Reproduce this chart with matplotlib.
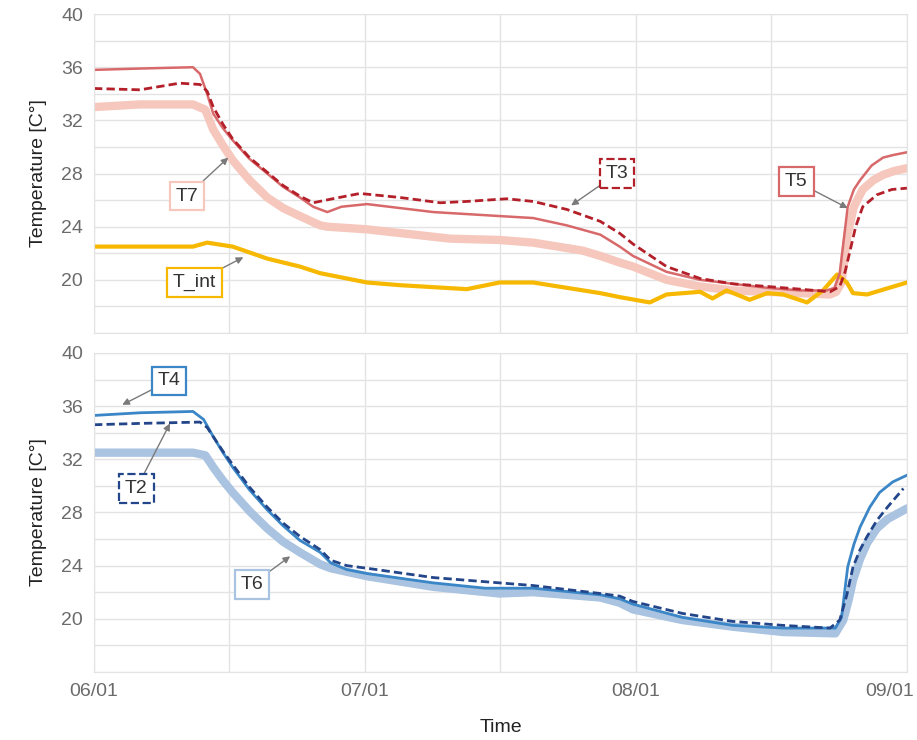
import numpy as np
import matplotlib.pyplot as plt
import matplotlib.transforms as mtransforms

plt.rcParams['font.family'] = ['Liberation Sans', 'DejaVu Sans']

# days since 06/01 for each series, temperatures in C
t5_day = [0, 5.2, 11.2, 12.0, 12.8, 13.5, 14.6, 15.7, 17.6, 19.6, 21.4, 23.3, 24.8, 25.6, 26.4,
          28.0, 30.9, 38.4, 45.9, 49.7, 53.5, 57.3, 59.5, 61.0, 64.8, 68.6, 72.3, 76.2, 79.9,
          82.9, 83.8, 84.4, 85.3, 86.0, 86.7, 88.0, 89.3, 90.5, 92]
t5_val = [35.8, 35.9, 36.0, 35.5, 34.0, 32.5, 31.4, 30.5, 29.1, 28.0, 27.0, 26.2, 25.5, 25.3, 25.1,
          25.5, 25.7, 25.1, 24.8, 24.65, 24.1, 23.4, 22.5, 21.8, 20.6, 20.0, 19.7, 19.4, 19.2,
          19.2, 19.4, 20.5, 25.5, 26.8, 27.5, 28.6, 29.2, 29.4, 29.6]

t3_day = [0, 5.2, 9.7, 12.0, 12.8, 13.5, 14.6, 15.7, 17.6, 19.6, 21.4, 23.3, 24.8, 27.0, 30.1,
          34.6, 39.2, 42.2, 46.7, 49.7, 53.5, 57.3, 59.5, 61.0, 64.8, 68.6, 72.3, 76.2, 79.9,
          83.3, 84.4, 85.0, 85.5, 86.2, 87.0, 88.6, 90.3, 92]
t3_val = [34.4, 34.3, 34.8, 34.7, 34.2, 33.0, 31.7, 30.6, 29.2, 28.1, 27.1, 26.3, 25.8, 26.1, 26.5,
          26.2, 25.8, 25.9, 26.1, 25.9, 25.3, 24.4, 23.5, 22.7, 21.0, 20.1, 19.7, 19.5, 19.3,
          19.1, 19.5, 20.6, 22.0, 24.0, 25.5, 26.4, 26.8, 26.9]

t7_day = [0, 5.2, 11.2, 12.6, 13.5, 14.6, 15.7, 17.6, 19.6, 21.4, 23.3, 25.6, 26.4, 30.9, 40.3,
          45.9, 49.7, 55.3, 57.3, 59.5, 61.0, 64.8, 68.6, 72.3, 76.2, 79.9, 83.3, 84.0, 84.6,
          85.3, 86.0, 87.0, 88.2, 89.3, 90.6, 92]
t7_val = [33.0, 33.2, 33.2, 32.8, 31.3, 30.1, 29.0, 27.5, 26.2, 25.4, 24.8, 24.1, 24.0, 23.8, 23.1,
          23.0, 22.8, 22.2, 21.8, 21.3, 21.0, 20.0, 19.5, 19.2, 19.1, 19.0, 18.9, 19.1, 19.8,
          23.5, 25.5, 26.8, 27.5, 27.9, 28.2, 28.4]

tint_day = [0, 11.2, 12.8, 15.7, 19.6, 23.3, 25.6, 30.9, 34.6, 42.2, 45.9, 49.7, 53.5, 57.3, 59.5,
            62.9, 64.8, 68.6, 70.0, 71.6, 74.2, 76.2, 78.0, 80.7, 82.5, 84.1, 85.2, 85.9, 87.5, 92]
tint_val = [22.5, 22.5, 22.8, 22.5, 21.6, 21.0, 20.5, 19.8, 19.6, 19.3, 19.8, 19.8, 19.4, 19.0, 18.7,
            18.3, 18.9, 19.1, 18.6, 19.2, 18.5, 19.0, 18.9, 18.3, 19.2, 20.4, 19.8, 19.0, 18.9, 19.8]

t4_day = [0, 5.2, 11.2, 12.4, 13.5, 14.6, 15.7, 17.6, 19.6, 21.4, 23.3, 25.6, 26.8, 28.6, 30.9,
          38.4, 44.3, 49.7, 57.3, 59.5, 61.0, 66.6, 72.3, 78.0, 83.9, 84.6, 85.3, 86.0, 86.7,
          87.8, 88.9, 90.4, 92]
t4_val = [35.3, 35.5, 35.6, 35.0, 33.7, 32.5, 31.4, 29.7, 28.2, 27.0, 25.9, 25.0, 24.2, 23.7, 23.4,
          22.7, 22.3, 22.3, 21.8, 21.5, 21.1, 20.1, 19.5, 19.3, 19.3, 20.1, 23.9, 25.6, 26.9,
          28.4, 29.5, 30.3, 30.8]

t2_day = [0, 5.2, 12.0, 12.8, 13.5, 14.6, 15.7, 17.6, 19.6, 21.4, 23.3, 25.6, 26.8, 28.6, 30.9,
          38.4, 45.9, 49.7, 57.3, 59.5, 61.0, 66.6, 72.3, 78.0, 83.3, 84.4, 85.2, 85.9, 86.7,
          87.5, 88.6, 89.8, 91.6]
t2_val = [34.6, 34.7, 34.8, 34.4, 33.7, 32.6, 31.6, 29.9, 28.4, 27.2, 26.2, 25.2, 24.4, 24.0, 23.8,
          23.1, 22.7, 22.5, 21.9, 21.7, 21.3, 20.4, 19.8, 19.5, 19.3, 19.9, 21.8, 23.9, 25.2,
          26.2, 27.4, 28.4, 29.8]

t6_day = [0, 11.2, 12.6, 13.5, 14.6, 15.7, 17.6, 19.6, 21.4, 23.3, 25.6, 26.8, 30.9, 38.4, 45.9,
          49.7, 57.3, 59.5, 61.0, 66.6, 72.3, 78.0, 83.9, 84.8, 85.4, 85.9, 86.7, 87.5, 88.6,
          89.8, 92]
t6_val = [32.5, 32.5, 32.3, 31.4, 30.4, 29.5, 28.1, 26.8, 25.8, 25.0, 24.1, 23.8, 23.2, 22.4, 21.9,
          22.0, 21.6, 21.2, 20.7, 19.9, 19.4, 19.0, 18.9, 19.9, 21.4, 22.9, 24.5, 25.7, 26.8,
          27.5, 28.3]

date_labels = ['06/01', '07/01', '08/01', '09/01']
y_ticks = [20, 24, 28, 32, 36, 40]

fig = plt.figure(figsize=(9.17, 7.4), dpi=100)
ax1 = fig.add_axes([0.1025, 0.55, 0.8865, 0.431])
ax2 = fig.add_axes([0.1025, 0.092, 0.8865, 0.431])

for ax in (ax1, ax2):
    ax.set_xlim(0, 92)
    ax.set_ylim(16, 40)
    ax.set_xticks(np.linspace(0, 92, 4))
    ax.set_xticks(np.linspace(0, 92, 7), minor=True)
    ax.set_yticks(y_ticks)
    ax.set_yticks(np.arange(16, 41, 2), minor=True)
    ax.grid(which='both', color='#e3e3e3', lw=1)
    ax.set_axisbelow(True)
    ax.tick_params(which='both', length=0, labelsize=14, colors='#6b6b6b', pad=8)
    for s in ax.spines.values():
        s.set_color('#e3e3e3')
    ax.set_ylabel('Temperature [C°]', fontsize=14, color='#222222', labelpad=10)

ax1.set_xticklabels([])
ax2.set_xticklabels(date_labels)
ax2.set_xlabel('Time', fontsize=14, color='#222222', labelpad=14)

# pull the last date label back inside the figure
last = ax2.get_xticklabels()[-1]
last.set_transform(last.get_transform() +
                   mtransforms.ScaledTranslation(-0.17, 0, fig.dpi_scale_trans))

# top panel
ax1.plot(t7_day, t7_val, color='#f6c7bc', lw=6, solid_capstyle='round')
ax1.plot(tint_day, tint_val, color='#f6b800', lw=3)
ax1.plot(t5_day, t5_val, color='#d8696b', lw=1.8)
ax1.plot(t3_day, t3_val, color='#b3202a', lw=2, ls=(0, (3, 1.5)))

# bottom panel
ax2.plot(t6_day, t6_val, color='#a9c3e0', lw=6, solid_capstyle='round')
ax2.plot(t4_day, t4_val, color='#3a86c6', lw=2)
ax2.plot(t2_day, t2_val, color='#23468a', lw=2, ls=(0, (3, 1.5)))


def tag(ax, text, xy, xytext, edge, ls='-'):
    ax.annotate(text, xy=xy, xytext=xytext, fontsize=14, color='#333333',
                ha='center', va='center',
                bbox=dict(boxstyle='square,pad=0.3', fc='white', ec=edge, lw=1.6, ls=ls),
                arrowprops=dict(arrowstyle='-|>', color='#7a7a7a', lw=1,
                                mutation_scale=10, shrinkA=0, shrinkB=0))


tag(ax1, 'T7', (15.2, 29.2), (10.5, 26.3), '#f6c7bc')
tag(ax1, 'T_int', (16.9, 21.7), (11.4, 19.8), '#f6b800')
tag(ax1, 'T3', (54.0, 25.6), (59.2, 28.0), '#b3202a', ls='--')
tag(ax1, 'T5', (85.3, 25.4), (79.5, 27.4), '#d8696b')

tag(ax2, 'T4', (3.2, 36.1), (8.5, 37.9), '#3a86c6')
tag(ax2, 'T2', (8.6, 34.7), (4.8, 29.8), '#23468a', ls='--')
tag(ax2, 'T6', (22.2, 24.7), (17.9, 22.6), '#a9c3e0')

fig.savefig('out.png', dpi=100)
